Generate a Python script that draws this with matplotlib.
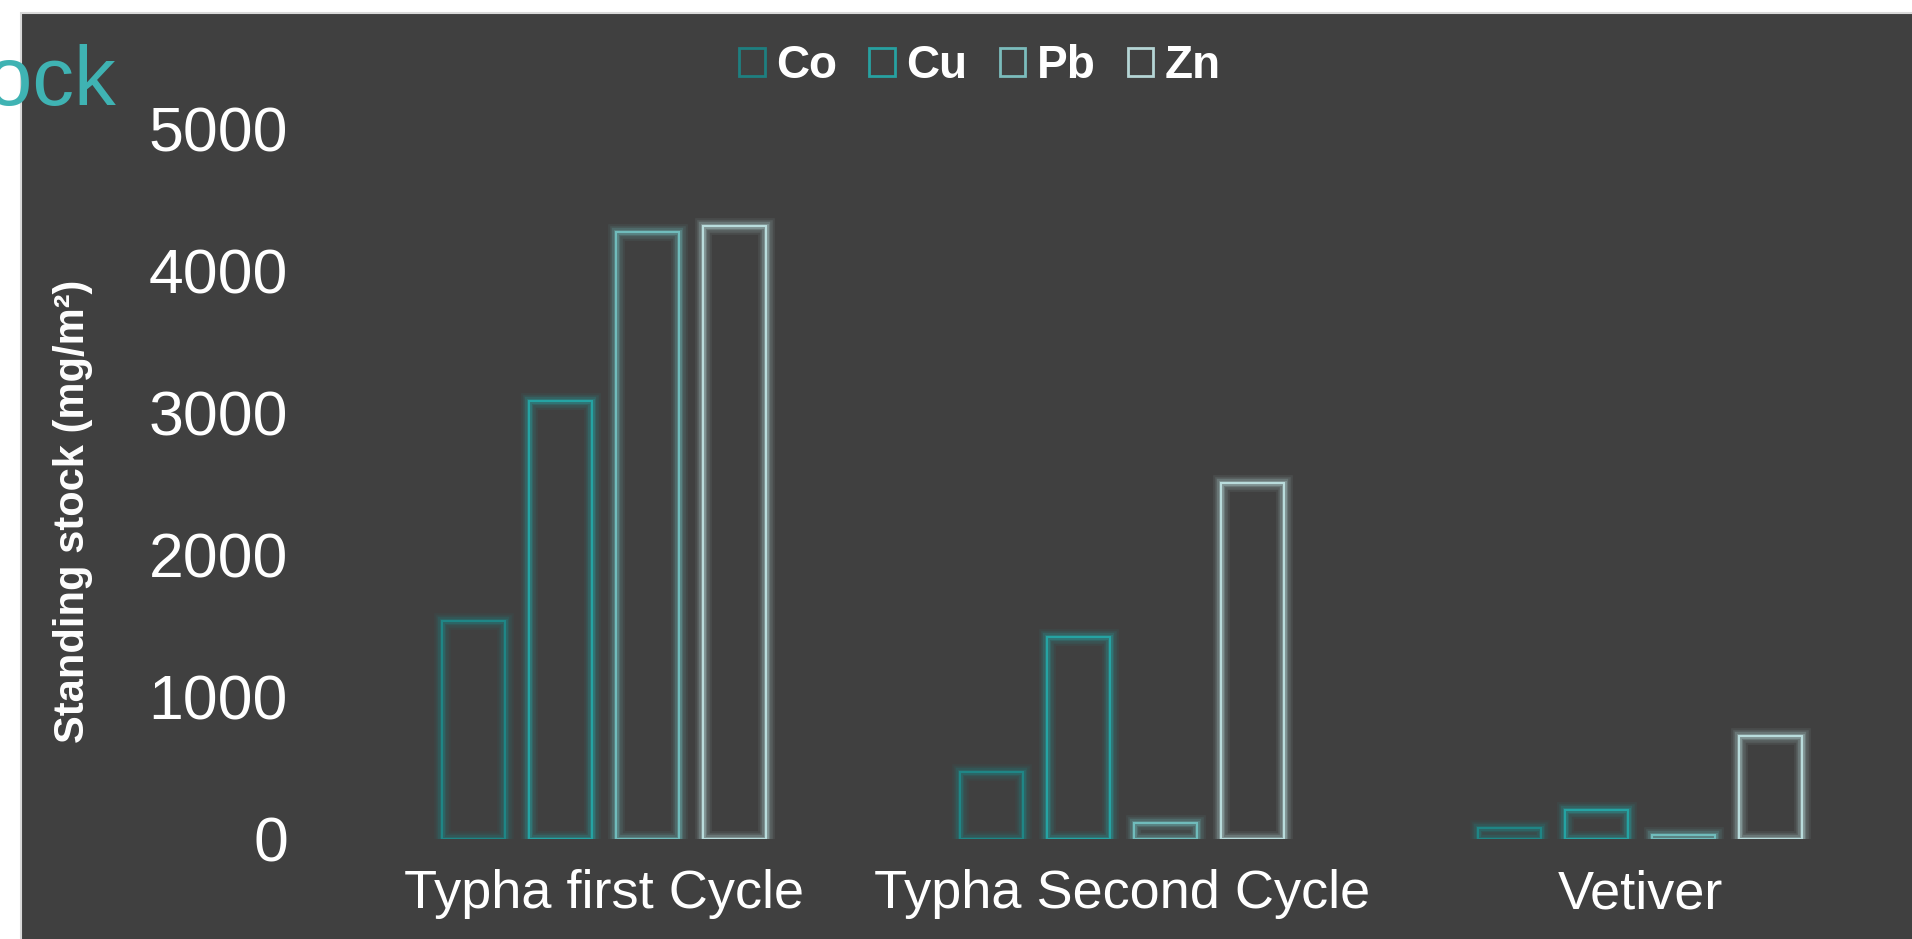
import numpy as np
import matplotlib
matplotlib.use("Agg")
import matplotlib.pyplot as plt
from matplotlib.patches import Rectangle, Patch
import matplotlib.patheffects as pe

plt.rcParams['font.family'] = ['Liberation Sans', 'DejaVu Sans']

categories = ["Typha first Cycle", "Typha Second Cycle", "Vetiver"]
series_names = ["Co", "Cu", "Pb", "Zn"]
co = [1530, 471, 72]
cu = [3083, 1417, 201]
pb = [4271, 112, 25]
zn = [4313, 2500, 723]
yticks = [0, 1000, 2000, 3000, 4000, 5000]

series = [co, cu, pb, zn]
colors = ['#1f8686', '#25a3a3', '#70bcbc', '#b9dcdc']

W, H = 1912, 939
fig = plt.figure(figsize=(W / 100, H / 100), dpi=100)
fig.patch.set_facecolor('white')

# dark panel
fig.add_artist(Rectangle((21 / W, -0.02), 1.1, (H - 13) / H + 0.02,
                         transform=fig.transFigure, facecolor='#404040',
                         edgecolor='#d9d9d9', linewidth=1.5, zorder=0))

ax_left, ax_right, ax_bottom, ax_top = 345, 1899, 838.5, 128.5
ax = fig.add_axes([ax_left / W, 1 - ax_bottom / H,
                   (ax_right - ax_left) / W, (ax_bottom - ax_top) / H])
ax.patch.set_alpha(0)
for s in ax.spines.values():
    s.set_visible(False)

x = np.arange(len(categories))
step = 87 / 518
width = 63 / 518
for i, (vals, c) in enumerate(zip(series, colors)):
    bars = ax.bar(x + (i - 1.5) * step, vals, width=width, facecolor='none',
                  edgecolor=c, linewidth=1.5, zorder=3)
    for b in bars:
        b.set_path_effects([
            pe.Stroke(linewidth=12, foreground=c, alpha=0.08),
            pe.Stroke(linewidth=9, foreground=c, alpha=0.12),
            pe.Stroke(linewidth=6, foreground=c, alpha=0.2),
            pe.Stroke(linewidth=3.5, foreground=c, alpha=0.3),
            pe.Normal(),
        ])

ax.set_xlim(-0.5, 2.5)
ax.set_ylim(0, 5000)
ax.set_yticks(yticks)
ax.set_yticklabels([str(t) for t in yticks])
ax.set_xticks(x)
ax.set_xticklabels(categories)
ax.tick_params(axis='y', length=0, pad=41, labelsize=45, labelcolor='white')
ax.tick_params(axis='x', length=0, pad=22, labelsize=39, labelcolor='white')

fig.text(73 / W, 1 - 511 / H, "Standing stock (mg/m²)", rotation=90,
         ha='center', va='center', fontsize=30, fontweight='bold', color='white')

handles = [Patch(facecolor='none', edgecolor=c, linewidth=2, label=n)
           for n, c in zip(series_names, ['#1e7f80', '#27a1a1', '#7bbcbc', '#b4d5d5'])]
leg = fig.legend(handles=handles, loc='center', bbox_to_anchor=(980 / W, 1 - 66.5 / H),
                 ncol=4, frameon=False, handlelength=0.56, handleheight=0.56,
                 handletextpad=0.25, columnspacing=0.7,
                 prop={'size': 33, 'weight': 'bold'})
for t in leg.get_texts():
    t.set_color('white')

fig.text(116 / W, 1 - 105 / H, "Standing stock", ha='right', va='baseline',
         fontsize=60, color='#3fb3b3')

fig.savefig("out.png", dpi=100, facecolor=fig.get_facecolor())
